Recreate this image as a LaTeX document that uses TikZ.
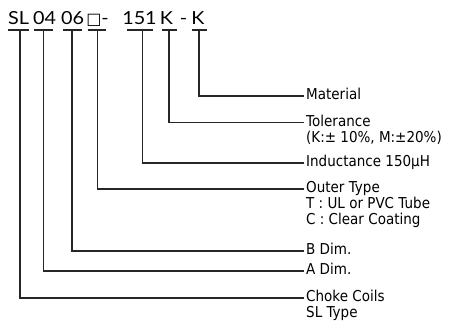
\documentclass[tikz,border=0pt]{standalone}
\usepackage{fontspec}
\setmainfont{DejaVu Sans}[FakeStretch=0.9]
\newfontfamily\codefont{Lato}[FakeStretch=1.1]
\newfontfamily\boxfont{DejaVu Sans}
\tikzset{
  codeseg/.style={inner sep=0pt, anchor=base, font=\codefont\fontsize{18}{20}\selectfont},
  lab/.style={inner xsep=2pt, inner ysep=0pt, anchor=west, text height=0.73em, text depth=0pt,
              font=\fontsize{15}{16}\selectfont},
  wire/.style={line width=1.1pt, draw=black!85}
}
\begin{document}
\begin{tikzpicture}[x=1pt,y=-1pt]
\useasboundingbox (0,0) rectangle (459,322);
% code segments
\node[codeseg] (cSL) at (18.5,24) {SL};
\node[codeseg] (c04) at (44.5,24) {04};
\node[codeseg] (c06) at (72.5,24) {06};
\node[codeseg, font=\boxfont\fontsize{16}{18}\selectfont] (cBox) at (94,24) {□};
\node[codeseg] (cDash1) at (105,24) {-};
\node[codeseg] (c151) at (139.5,24) {151};
\node[codeseg] (cK1) at (166.5,24) {K};
\node[codeseg] (cDash2) at (183.5,24) {-};
\node[codeseg] (cK2) at (198,24) {K};
% underlines
\draw[wire] (8,30) -- (29,30);
\draw[wire] (34,30) -- (53,30);
\draw[wire] (63,30) -- (82,30);
\draw[wire] (88,30) -- (106,30);
\draw[wire] (127,30) -- (153,30);
\draw[wire] (162,30) -- (177,30);
\draw[wire] (192,30) -- (207,30);
% tops of the connectors
\coordinate (tSL) at (20,30);
\coordinate (t04) at (43.5,30);
\coordinate (t06) at (72,30);
\coordinate (tBox) at (97.5,30);
\coordinate (t151) at (142.5,30);
\coordinate (tK1) at (169,30);
\coordinate (tK2) at (199,30);
% labels
\node[lab] (lMat) at (304,96) {Material};
\node[lab] (lTol) at (304,122.5) {Tolerance};
\node[lab] (lTol2) at (304,138.5) {(K:± 10\%, M:±20\%)};
\node[lab] (lInd) at (304,163) {Inductance 150μH};
\node[lab] (lOut) at (304,189) {Outer Type};
\node[lab] (lOut2) at (304,205) {T : UL or PVC Tube};
\node[lab] (lOut3) at (304,221) {C : Clear Coating};
\node[lab] (lB) at (304,251) {B Dim.};
\node[lab] (lA) at (304,271) {A Dim.};
\node[lab] (lCh) at (304,298) {Choke Coils};
\node[lab] (lCh2) at (304,314) {SL Type};
% connectors
\draw[wire] (tK2) |- (lMat.west);
\draw[wire] (tK1) |- (lTol.west);
\draw[wire] (t151) |- (lInd.west);
\draw[wire] (tBox) |- (lOut.west);
\draw[wire] (t06) |- (lB.west);
\draw[wire] (t04) |- (lA.west);
\draw[wire] (tSL) |- (lCh.west);
\end{tikzpicture}
\end{document}
